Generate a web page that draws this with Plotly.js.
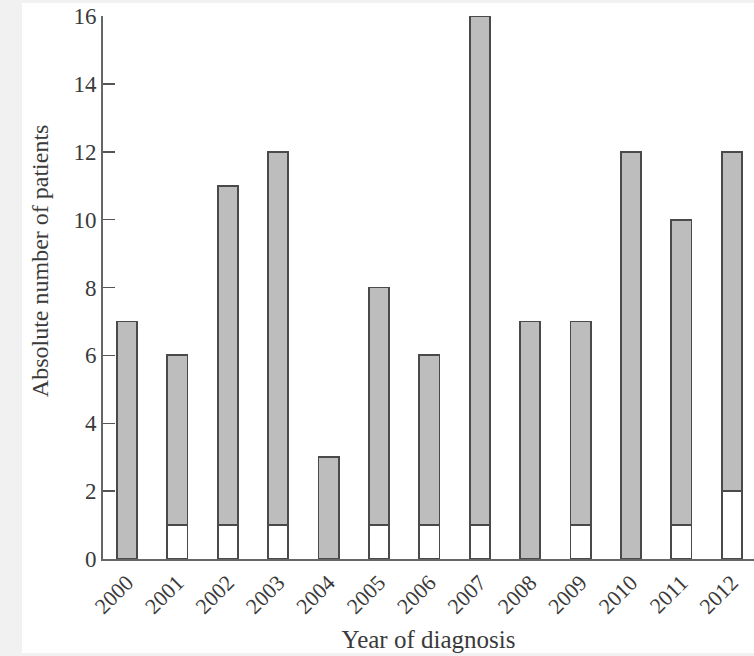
<!DOCTYPE html>
<html>
<head>
<meta charset="utf-8">
<script src="https://cdn.plot.ly/plotly-3.0.1.min.js"></script>
<style>
html,body{margin:0;padding:0;background:#f1f1f1;width:754px;height:656px;overflow:hidden;}
#chart{position:absolute;left:22px;top:3px;width:732px;height:650px;background:#fff;}
</style>
</head>
<body>
<div id="chart"></div>
<script>
var years = ['2000','2001','2002','2003','2004','2005','2006','2007','2008','2009','2010','2011','2012'];
var whiteCounts = [0,1,1,1,0,1,1,1,0,1,0,1,2];
var greyCounts = [7,5,10,11,3,7,5,15,7,6,12,9,10];
var yTicks = [0,2,4,6,8,10,12,14,16];

var lineStyle = {color:'#4a4a4a', width:1.8};
var traces = [
  {type:'bar', x:years, y:whiteCounts, width:0.4, marker:{color:'#ffffff', line:lineStyle}, hoverinfo:'skip', cliponaxis:false},
  {type:'bar', x:years, y:greyCounts, width:0.4, marker:{color:'#bdbdbd', line:lineStyle}, hoverinfo:'skip', cliponaxis:false}
];
var fam = '"Liberation Serif", "DejaVu Serif", serif';
var txt = '#3a3a3a';
var layout = {
  width:732, height:650,
  margin:{l:81, r:0, t:13, b:94},
  paper_bgcolor:'#ffffff', plot_bgcolor:'#ffffff',
  barmode:'stack', showlegend:false,
  font:{family:fam, color:txt},
  xaxis:{
    type:'category', range:[-0.476, 12.44],
    showline:true, linecolor:'#666666', linewidth:2,
    ticks:'', tickangle:-45, showgrid:false, zeroline:false,
    tickfont:{family:fam, size:22, color:txt},
    title:{text:'Year of diagnosis', font:{family:fam, size:25, color:txt}, standoff:17},
    automargin:false
  },
  yaxis:{
    range:[0,16], tickvals:yTicks, ticktext:yTicks.map(String),
    showline:true, linecolor:'#666666', linewidth:2,
    ticks:'inside', ticklen:12, tickwidth:1.5, tickcolor:'#555555',
    showgrid:false, zeroline:false,
    tickfont:{family:fam, size:23, color:txt},
    automargin:false
  },
  annotations:[{
    text:'Absolute number of patients', textangle:-90,
    xref:'paper', yref:'paper', x:-0.097, y:0.55,
    xanchor:'center', yanchor:'middle', showarrow:false,
    font:{family:fam, size:24, color:txt}
  }]
};
Plotly.newPlot('chart', traces, layout, {staticPlot:true});
</script>
</body>
</html>
